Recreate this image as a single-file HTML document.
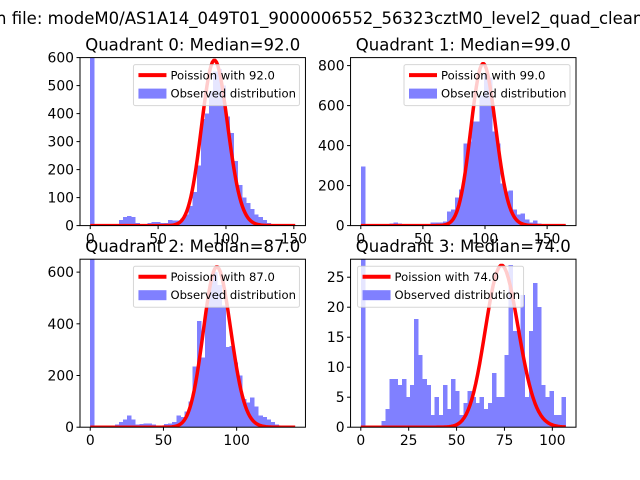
<!DOCTYPE html>
<html><head><meta charset="utf-8"><style>
html,body{margin:0;padding:0;background:#fff;}
svg{display:block;font-family:"DejaVu Sans","Liberation Sans",sans-serif;}
</style></head><body>
<svg id="fig" width="640" height="480" viewBox="0 0 640 480">
<rect width="640" height="480" fill="#fff"/>
<text x="-4" y="24" font-size="16.5" fill="#000">n file: modeM0/AS1A14_049T01_9000006552_56323cztM0_level2_quad_clean.evt</text>
</svg>
<script>
const medians = [92.0, 99.0, 87.0, 74.0];
const xMaxes = [151, 165, 140, 107];
const yMaxes = [600, 840, 650, 28];
const poissonScales = [14200, 20200, 14500, 582];
const counts0 = [700,0,0,0,0,0,5,20,30,35,30,10,5,5,10,12,12,10,10,20,18,18,25,40,70,120,215,380,400,480,550,560,500,390,330,230,145,100,80,60,40,30,20,10,5,5,3,2,1,1];
const counts1 = [295,0,0,0,0,0,0,10,15,10,8,8,8,5,5,8,5,15,15,15,20,70,80,140,180,410,420,520,520,650,760,740,470,410,210,170,175,80,55,60,30,15,25,10,5,3,2,1,1,1];
const counts2 = [700,0,0,0,0,0,10,20,30,45,30,10,12,15,15,10,5,5,12,15,20,45,40,60,100,235,410,270,470,560,600,550,470,310,315,250,200,110,95,115,80,45,40,30,20,10,5,3,2,1];
const counts3 = [30,0,0,0,0,1,3,8,8,7,8,5,7,18,12,8,7,2,5,2,7,3,8,6,2,4,6,5,4,5,3,4,9,5,5,12,27,16,16,22,5,16,24,20,7,5,6,2,2,5];
const allCounts = [counts0, counts1, counts2, counts3];
const yTicks = [[0,100,200,300,400,500,600],[0,200,400,600,800],[0,200,400,600],[0,5,10,15,20,25]];
const xTicks = [[0,50,100,150],[0,50,100,150],[0,50,100],[0,25,50,75,100]];
const legendLeft = [false,false,false,true];

const NS='http://www.w3.org/2000/svg';
const svg=document.getElementById('fig');
function mk(tag,attrs,parent){const e=document.createElementNS(NS,tag);for(const k in attrs)e.setAttribute(k,attrs[k]);(parent||svg).appendChild(e);return e;}
function lgamma(n){let s=0;for(let i=2;i<=n;i++)s+=Math.log(i);return s;}
function pmf(k,l){return Math.exp(k*Math.log(l)-l-lgamma(k));}

const axW=225.45, axH=168;
const lefts=[80,350.55,80,350.55], tops=[57.6,57.6,259.2,259.2];
for(let q=0;q<4;q++){
  const L=lefts[q],T=tops[q],xmax=xMaxes[q],ymax=yMaxes[q],cnt=allCounts[q];
  const pad=xmax*0.05, x0=-pad, x1=xmax+pad;
  const sx=v=>L+(v-x0)/(x1-x0)*axW;
  const sy=v=>T+axH-(v/ymax)*axH;
  const g=mk('g',{});
  
  
  const cp=mk('clipPath',{id:'cp'+q},g);mk('rect',{x:L,y:T,width:axW,height:axH},cp);
  const plot=mk('g',{'clip-path':'url(#cp'+q+')'},g);
  const bars=mk('g',{fill:'#8080ff','shape-rendering':'crispEdges'},plot);
  const bw=xmax/cnt.length;
  cnt.forEach((c,i)=>{
    const r=mk('rect',{x:sx(i*bw),y:sy(c),width:sx((i+1)*bw)-sx(i*bw)+0.4,height:Math.max(0,sy(0)-sy(c))},bars);
    
    
  });
  let d='';
  for(let k=0;k<=xmax;k++){d+=(k?'L':'M')+sx(k).toFixed(2)+','+sy(poissonScales[q]*pmf(k,medians[q])).toFixed(2);}
  const p=mk('path',{d:d,fill:'none',stroke:'#ff0000','stroke-width':3.5,'stroke-linejoin':'round'},plot);
  
  
  mk('rect',{x:L,y:T,width:axW,height:axH,fill:'none',stroke:'#000','stroke-width':1},g);
  yTicks[q].forEach(v=>{
    mk('line',{x1:L-3.5,x2:L,y1:sy(v),y2:sy(v),stroke:'#000'},g);
    const t=mk('text',{x:L-6,y:sy(v)+5,'text-anchor':'end','font-size':13.9},g);t.textContent=v;
    
    
  });
  xTicks[q].forEach(v=>{
    mk('line',{x1:sx(v),x2:sx(v),y1:T+axH,y2:T+axH+3.5,stroke:'#000'},g);
    const t=mk('text',{x:sx(v),y:T+axH+18,'text-anchor':'middle','font-size':13.9},g);t.textContent=v;
    
    
  });
  const ti=mk('text',{x:L+axW/2,y:T-7,'text-anchor':'middle','font-size':16.5},g);
  ti.textContent='Quadrant '+q+': Median='+medians[q].toFixed(1);
  
  
  const lw=166, lx=legendLeft[q]?L+7:L+axW-lw-6, ly=T+7;
  const lg=mk('g',{},g);
  
  
  mk('rect',{x:lx,y:ly,width:lw,height:41,rx:2,fill:'#fff','fill-opacity':0.8,stroke:'#ccc','stroke-opacity':0.8},lg);
  mk('line',{x1:lx+5,x2:lx+33,y1:ly+10.5,y2:ly+10.5,stroke:'#ff0000','stroke-width':4},lg);
  const t1=mk('text',{x:lx+37,y:ly+15,'font-size':11.6},lg);t1.textContent='Poission with '+medians[q].toFixed(1);
  
  
  mk('rect',{x:lx+5,y:ly+24,width:28,height:10,fill:'#8080ff'},lg);
  const t2=mk('text',{x:lx+37,y:ly+33,'font-size':11.6},lg);t2.textContent='Observed distribution';
  
  
}
</script>
</body></html>
